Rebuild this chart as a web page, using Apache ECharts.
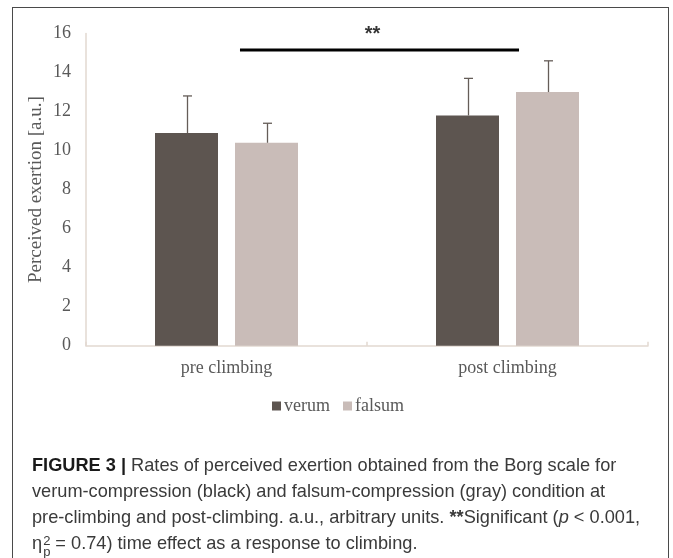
<!DOCTYPE html>
<html>
<head>
<meta charset="utf-8">
<script src="https://cdn.jsdelivr.net/npm/echarts@6/dist/echarts.min.js"></script>
<style>
  html, body { margin: 0; padding: 0; background: #fff; }
  #wrap { position: relative; width: 673px; height: 558px; overflow: hidden; }
  #chart { position: absolute; left: 0; top: 0; width: 673px; height: 558px; }
  #frame { position: absolute; left: 12px; top: 7px; width: 657px; height: 600px;
           border: 1.5px solid #4a4a4a; box-sizing: border-box; pointer-events: none; }
  #caption { position: absolute; left: 32px; top: 452px; font-family: "Liberation Sans", Arial, sans-serif;
             font-size: 18.2px; line-height: 26px; color: #3a3a3a; white-space: nowrap; }
  #caption b { color: #1a1a1a; }
  .eta-idx { display: inline-block; vertical-align: -7px; font-size: 13px; line-height: 11px; margin-left: 1px; margin-right: 5px; }
  .eta-idx span { display: block; }
</style>
</head>
<body>
<div id="wrap">
  <div id="chart"></div>
  <div id="frame"></div>
  <div id="caption">
    <div><b>FIGURE 3 |</b> Rates of perceived exertion obtained from the Borg scale for</div>
    <div>verum-compression (black) and falsum-compression (gray) condition at</div>
    <div>pre-climbing and post-climbing. a.u., arbitrary units. <b style="color:#3a3a3a">**</b>Significant (<i>p</i> &lt; 0.001,</div>
    <div>η<span class="eta-idx"><span>2</span><span>p</span></span>= 0.74) time effect as a response to climbing.</div>
  </div>
</div>
<script>
// ---- data ----
const categories = ['pre climbing', 'post climbing'];
const verumMean = [10.9, 11.8];
const falsumMean = [10.4, 13.0];
const verumUpper = [12.8, 13.7];
const falsumUpper = [11.4, 14.6];
const yTicks = [0, 2, 4, 6, 8, 10, 12, 14, 16];
const sigLineX = [0.548, 1.541];
const sigLineY = 15.15;
const sigLabelPos = [1.02, 15.95];
const sigLabel = '**';

// ---- styles ----
const COL_VERUM = '#5d5550';
const COL_FALSUM = '#c9bcb8';
const AXIS_COL = '#e2d9d1';
const TEXT_COL = '#595959';
const FONT = '"Liberation Serif", "Times New Roman", serif';
const BAR_W = 63;
const BAR_GAP = 17;

const chart = echarts.init(document.getElementById('chart'), null, { renderer: 'canvas' });

function errorSeries(name, means, uppers, sign) {
  return {
    type: 'custom',
    name: name + '-err',
    xAxisIndex: 0,
    yAxisIndex: 0,
    z: 5,
    data: means.map((m, i) => [i, m, uppers[i]]),
    renderItem: function (params, api) {
      const c = api.coord([api.value(0), api.value(1)]);
      const top = api.coord([api.value(0), api.value(2)]);
      const x = Math.round(c[0] + sign * (BAR_W + BAR_GAP) / 2) + 0.5;
      const cap = 4.5;
      return {
        type: 'group',
        children: [
          { type: 'line', shape: { x1: x, y1: c[1], x2: x, y2: top[1] },
            style: { stroke: '#655d58', lineWidth: 1.3 } },
          { type: 'line', shape: { x1: x - cap, y1: top[1], x2: x + cap, y2: top[1] },
            style: { stroke: '#655d58', lineWidth: 1.3 } }
        ]
      };
    }
  };
}

const option = {
  animation: false,
  textStyle: { fontFamily: FONT },
  grid: { left: 86, right: 25, top: 33.5, bottom: 212.3, containLabel: false },
  legend: {
    data: ['verum', 'falsum'],
    left: 267, top: 392,
    icon: 'rect', itemWidth: 9, itemHeight: 9, itemGap: 13,
    textStyle: { fontFamily: FONT, fontSize: 18, color: TEXT_COL, padding: [0, 0, 0, -2] }
  },
  xAxis: [
    {
      type: 'category', data: categories, boundaryGap: true,
      axisLine: { show: true, lineStyle: { color: AXIS_COL, width: 1.5 } },
      axisTick: { show: true, inside: true, length: 4, lineStyle: { color: AXIS_COL, width: 1.5 } },
      axisLabel: { fontFamily: FONT, fontSize: 18, color: TEXT_COL, margin: 14 },
      splitLine: { show: false }
    },
    {
      type: 'value', min: 0, max: 2, show: false, position: 'bottom'
    }
  ],
  yAxis: {
    type: 'value', min: yTicks[0], max: yTicks[yTicks.length - 1], interval: yTicks[1] - yTicks[0],
    name: 'Perceived exertion [a.u.]', nameLocation: 'middle', nameRotate: 90, nameGap: 40,
    nameMoveOverlap: false,
    nameTextStyle: { fontFamily: FONT, fontSize: 19, color: TEXT_COL },
    axisLine: { show: true, lineStyle: { color: AXIS_COL, width: 1.5 } },
    axisTick: { show: false },
    splitLine: { show: false },
    axisLabel: { fontFamily: FONT, fontSize: 18, color: TEXT_COL, margin: 15 }
  },
  series: [
    { type: 'bar', name: 'verum', data: verumMean, barWidth: BAR_W, barGap: (BAR_GAP / BAR_W * 100) + '%',
      itemStyle: { color: COL_VERUM } },
    { type: 'bar', name: 'falsum', data: falsumMean, barWidth: BAR_W,
      itemStyle: { color: COL_FALSUM } },
    errorSeries('verum', verumMean, verumUpper, -1),
    errorSeries('falsum', falsumMean, falsumUpper, 1),
    {
      type: 'line', name: 'sig', xAxisIndex: 1, yAxisIndex: 0, z: 6,
      data: sigLineX.map(x => [x, sigLineY]),
      symbol: 'none', lineStyle: { color: '#000', width: 3 }
    },
    {
      type: 'scatter', name: 'sigLabel', xAxisIndex: 1, yAxisIndex: 0, z: 6,
      data: [sigLabelPos], symbolSize: 0,
      label: { show: true, position: 'inside', formatter: sigLabel,
               fontFamily: '"Liberation Sans", Arial, sans-serif', fontWeight: 'bold', fontSize: 20, color: '#000' }
    }
  ]
};
chart.setOption(option);
</script>
</body>
</html>
